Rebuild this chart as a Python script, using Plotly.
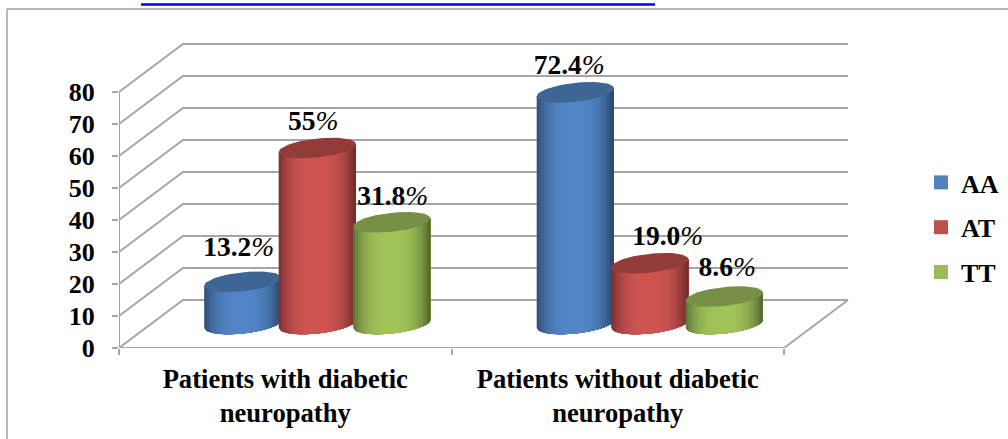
import numpy as np
import plotly.graph_objects as go

# Chart data
categories = ["Patients with diabetic<br>neuropathy", "Patients without diabetic<br>neuropathy"]
genotypes = ["AA", "AT", "TT"]
with_neuropathy = [13.2, 55.0, 31.8]
without_neuropathy = [72.4, 19.0, 8.6]
value_labels = [["13.2", "55", "31.8"], ["72.4", "19.0", "8.6"]]
label_lift = [[33, 25, 24], [25, 25, 27]]  # pixels above the cylinder top
label_shift = [[-4, -4, 1], [-6, 18, 3]]   # pixels right of the cylinder axis
y_ticks = [0, 10, 20, 30, 40, 50, 60, 70, 80]

# Colours: (body centre, top cap, legend swatch)
palette = {
    "AA": ((82, 134, 200), "#3d6695", "#4f81bd"),
    "AT": ((207, 85, 82), "#933b39", "#c0504d"),
    "TT": ((163, 196, 90), "#788f47", "#9bbb59"),
}
grid_colour = "#a6a6a6"
font_family = "Liberation Serif"
font_size = 26

# Figure size and the pixel frame of the front plane
W, H = 1008, 439
left_px, bottom_px = 119, 348
px_per_cat, px_per_val = 332.5, 3.2

# Oblique projection: depth 1 is the back wall
depth_x = 64 / px_per_cat
depth_y = 48 / px_per_val

x_max = (W - left_px) / px_per_cat
y_max = bottom_px / px_per_val


def project(cat, val, depth=0.0):
    return cat + depth * depth_x, val + depth * depth_y


fig = go.Figure()


def add_line(points, width=2.0, colour=grid_colour):
    fig.add_trace(go.Scatter(
        x=[p[0] for p in points], y=[p[1] for p in points],
        mode="lines", line=dict(color=colour, width=width),
        showlegend=False, hoverinfo="skip", cliponaxis=False,
    ))


# Walls: back grid lines, side wall diagonals and floor
for v in y_ticks:
    add_line([project(0, v, 0), project(0, v, 1), project(2, v, 1)])
add_line([project(0, 0), project(2, 0), project(2, 0, 1)])
add_line([project(0, 0), project(0, y_ticks[-1])])

# Cylinder geometry, in axis units
radius_cat = 0.116
tilt_val = 4.0 / px_per_val
minor_val = 9.5 / px_per_val
bar_offsets = [-0.224, 0.0, 0.224]
bar_depth = 0.5
n_strips = 32


def shade(rgb, u):
    k = 1 - 0.40 * abs(u) ** 3 - (0.10 * u ** 2 if u > 0 else 0.02 * u ** 2)
    return "rgb(%d,%d,%d)" % tuple(int(c * k) for c in rgb)


def add_cylinder(cat, value, genotype):
    body, cap, _ = palette[genotype]
    cx, base = project(cat, 0, bar_depth)
    starts = np.linspace(-1, 1, n_strips + 1)[:-1]
    step = starts[1] - starts[0]
    # Each strip runs to the right edge, so the next one paints over it without seams
    for u0 in starts:
        us = np.linspace(u0, 1, 40)
        xs = cx + radius_cat * us
        low = base + tilt_val * us - minor_val * np.sqrt(np.clip(1 - us ** 2, 0, 1))
        high = base + value + tilt_val * us
        fig.add_trace(go.Scatter(
            x=list(xs) + list(xs[::-1]) + [xs[0]],
            y=list(low) + list(high[::-1]) + [low[0]],
            mode="lines", fill="toself", fillcolor=shade(body, u0 + step / 2),
            line=dict(width=0),
            showlegend=False, hoverinfo="skip",
        ))
    t = np.linspace(0, 2 * np.pi, 73)
    fig.add_trace(go.Scatter(
        x=cx + radius_cat * np.cos(t),
        y=base + value + tilt_val * np.cos(t) + minor_val * np.sin(t),
        mode="lines", fill="toself", fillcolor=cap,
        line=dict(width=0),
        showlegend=False, hoverinfo="skip",
    ))


text_x, text_y, text_s = [], [], []
for g, series in enumerate([with_neuropathy, without_neuropathy]):
    for i, value in enumerate(series):
        cat = g + 0.5 + bar_offsets[i]
        add_cylinder(cat, value, genotypes[i])
        lx, ly = project(cat, value, bar_depth)
        text_x.append(lx + label_shift[g][i] / px_per_cat)
        text_y.append(ly + label_lift[g][i] / px_per_val)
        text_s.append("<b>%s</b><i>%%</i>" % value_labels[g][i])

# Value labels above the cylinders
fig.add_trace(go.Scatter(
    x=text_x, y=text_y, text=text_s, mode="text", textposition="middle center",
    textfont=dict(family=font_family, size=font_size + 1.5, color="black"),
    showlegend=False, hoverinfo="skip", cliponaxis=False,
))

# Legend entries
for name in genotypes:
    fig.add_trace(go.Scatter(
        x=[None], y=[None], mode="markers", name="<b>%s</b>" % name, legendgroup=name,
        marker=dict(symbol="square", size=14, color=palette[name][2]),
    ))

fig.update_layout(
    width=W, height=H,
    margin=dict(l=0, r=0, t=0, b=0, autoexpand=False),
    paper_bgcolor="white", plot_bgcolor="white",
    font=dict(family=font_family, size=font_size, color="black"),
    xaxis=dict(
        domain=[left_px / W, 1], range=[0, x_max], automargin=False,
        tickmode="array", tickvals=[0.5, 1.5], ticktext=["<b>%s</b>" % c for c in categories],
        tickfont=dict(size=26.6),
        ticks="", showgrid=False, zeroline=False, showline=False,
        ticklabelstandoff=12,
        minor=dict(tickmode="array", tickvals=[0, 1, 2], ticks="outside", ticklen=6,
                   tickwidth=2, tickcolor=grid_colour, showgrid=False),
    ),
    yaxis=dict(
        domain=[(H - bottom_px) / H, 1], range=[0, y_max], automargin=False,
        tickmode="array", tickvals=y_ticks, ticktext=["<b>%d</b>" % v for v in y_ticks],
        ticks="outside", ticklen=6, tickwidth=2, tickcolor=grid_colour,
        ticklabelstandoff=12,
        showgrid=False, zeroline=False, showline=False,
    ),
    legend=dict(
        x=921 / W, y=1 - 159 / H, xanchor="left", yanchor="top",
        tracegroupgap=8, itemwidth=30, bgcolor="rgba(0,0,0,0)",
    ),
    shapes=[
        # Outer chart frame
        dict(type="line", xref="paper", yref="paper", x0=7 / W, x1=7 / W, y0=0, y1=1 - 9 / H,
             line=dict(color="#a0a0a0", width=1.5)),
        dict(type="line", xref="paper", yref="paper", x0=7 / W, x1=1, y0=1 - 9 / H, y1=1 - 9 / H,
             line=dict(color="#a0a0a0", width=1.5)),
        # Hyperlink underline running along the top edge
        dict(type="line", xref="paper", yref="paper", x0=141 / W, x1=655 / W, y0=1 - 4.5 / H, y1=1 - 4.5 / H,
             line=dict(color="#0000ee", width=2.5)),
    ],
)

fig.write_html("out.html")
